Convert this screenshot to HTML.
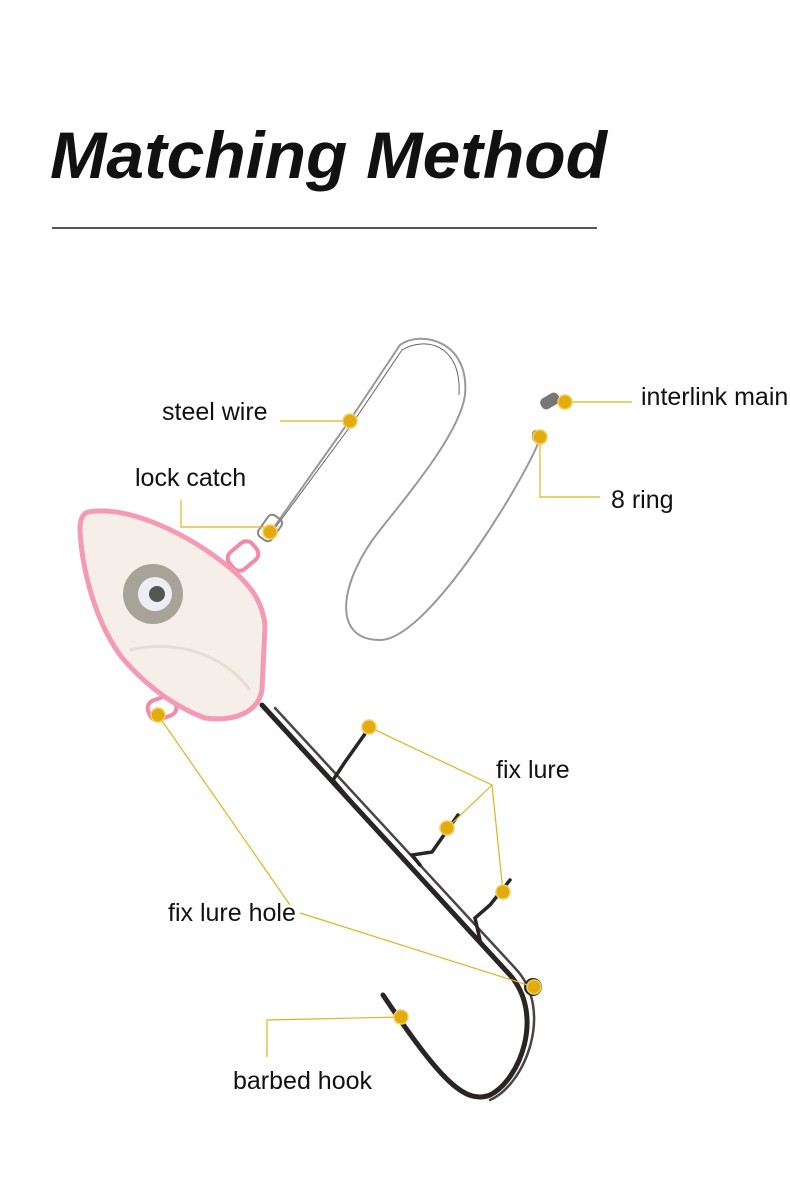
<!DOCTYPE html>
<html><head><meta charset="utf-8"><style>
body{margin:0;width:790px;height:1180px;background:#fff;overflow:hidden}
svg{display:block}
text{font-family:"Liberation Sans",sans-serif}
</style></head><body>
<svg width="790" height="1180" viewBox="0 0 790 1180">
<text x="50" y="178" font-size="66" font-weight="bold" font-style="italic" fill="#111" textLength="557" lengthAdjust="spacingAndGlyphs">Matching Method</text>
<line x1="52" y1="228" x2="597" y2="228" stroke="#222" stroke-width="1.5"/>
<!-- wires -->
<path d="M272,530 L350,420 L400,345 C420,330 470,340 465,395 C460,430 420,480 380,530 C340,580 330,640 380,640 C430,640 530,470 540,438" fill="none" stroke="#999" stroke-width="2"/>
<path d="M275,528 L352,424 L402,350 C425,336 462,344 459,395" fill="none" stroke="#666" stroke-width="1"/>
<rect x="540" y="395" width="20" height="12" rx="5" fill="#777" transform="rotate(-30 550 401)"/>
<rect x="532" y="430" width="14" height="12" rx="4" fill="#a58850"/>
<rect x="262" y="515" width="16" height="26" rx="5" fill="none" stroke="#888" stroke-width="2" transform="rotate(35 270 528)"/>
<!-- jig head -->
<rect x="228" y="545" width="30" height="22" rx="8" fill="none" stroke="#f08aa6" stroke-width="4" transform="rotate(-40 243 556)"/>
<rect x="148" y="698" width="28" height="20" rx="8" fill="none" stroke="#f08aa6" stroke-width="4" transform="rotate(-20 162 708)"/>
<path d="M88,512 C130,505 190,535 230,568 C250,585 262,600 265,625 L262,690 C258,712 235,722 205,718 C170,705 140,680 120,655 C95,620 82,570 80,530 C80,520 82,514 88,512 Z" fill="#f6eee8" stroke="#f59ab4" stroke-width="5"/>
<path d="M130,650 C170,640 220,650 250,690" fill="none" stroke="#e8ddd5" stroke-width="3"/>
<circle cx="153" cy="594" r="30" fill="#a8a399"/>
<circle cx="155" cy="594" r="17" fill="#eceef3"/>
<circle cx="157" cy="594" r="8" fill="#555"/>
<!-- hook -->
<g fill="none" stroke="#2a2424" stroke-linecap="round">
<path d="M262,705 L510,975 C545,1015 520,1080 490,1095 C465,1105 440,1080 383,995" stroke-width="5"/>
<path d="M275,708 L515,968 C555,1010 525,1085 490,1100" stroke-width="2.5" stroke="#4a4444"/>
<path d="M350,800 L333,780 L345,762 L372,724" stroke-width="3.5"/>
<path d="M420,865 L412,855 L432,852 L458,815" stroke-width="3.5"/>
<path d="M480,940 L475,918 L490,905 L510,880" stroke-width="3.5"/>
<circle cx="533" cy="987" r="7" stroke-width="4"/>
</g>
<!-- callouts -->
<g stroke="#e3b21a" stroke-width="1.2" fill="none">
<polyline points="280,421 350,421"/>
<polyline points="565,402 632,402"/>
<polyline points="181,500 181,527 270,527"/>
<polyline points="540,440 540,497 600,497"/>
<polyline points="369,727 492,785 447,828"/>
<polyline points="492,785 503,892"/>
<polyline points="158,715 290,905"/>
<polyline points="300,913 534,987"/>
<polyline points="267,1057 267,1020 401,1017"/>
</g>
<g fill="#e3ac0c" stroke="#f1cf5a" stroke-width="1.5">
<circle cx="350" cy="421" r="7"/><circle cx="565" cy="402" r="7"/>
<circle cx="270" cy="532" r="7"/><circle cx="540" cy="437" r="7"/>
<circle cx="369" cy="727" r="7"/><circle cx="447" cy="828" r="7"/>
<circle cx="503" cy="892" r="7"/><circle cx="158" cy="715" r="7"/>
<circle cx="534" cy="987" r="7"/><circle cx="401" cy="1017" r="7"/>
</g>
<g font-size="25" fill="#111">
<text x="162" y="420">steel wire</text>
<text x="641" y="405">interlink main</text>
<text x="135" y="486">lock catch</text>
<text x="611" y="508">8 ring</text>
<text x="496" y="778">fix lure</text>
<text x="168" y="921">fix lure hole</text>
<text x="233" y="1089">barbed hook</text>
</g>
</svg>
</body></html>
